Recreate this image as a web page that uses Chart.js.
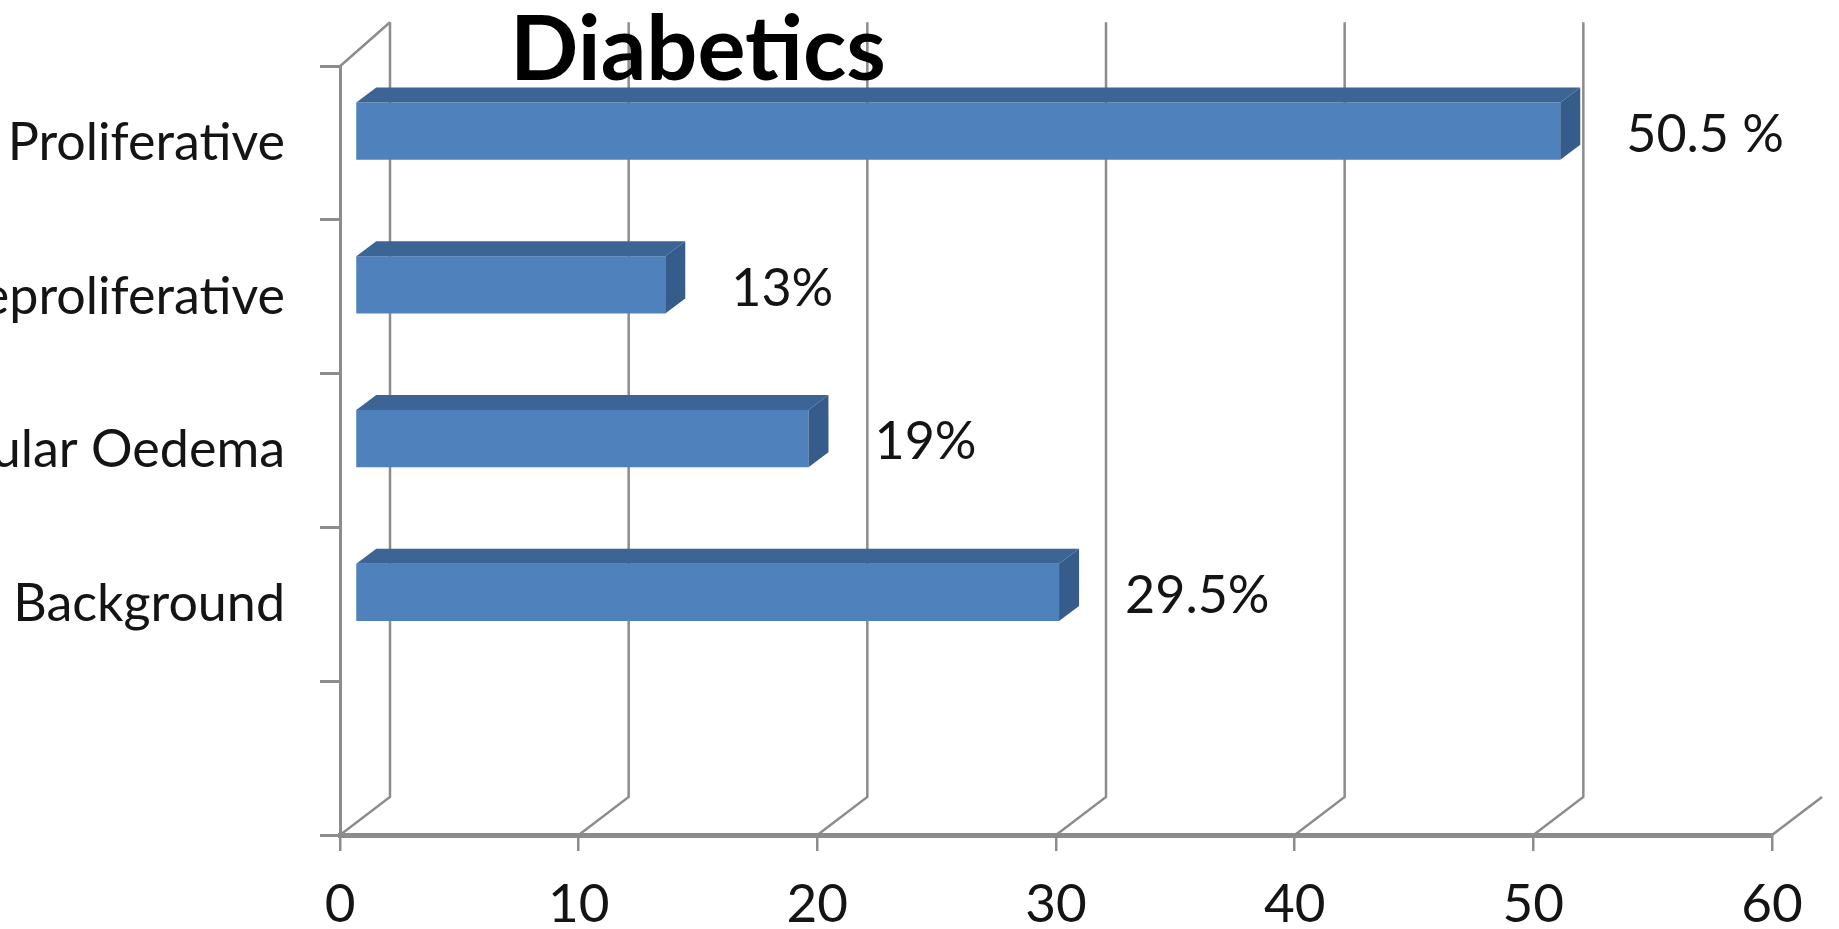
<!DOCTYPE html>
<html>
<head>
<meta charset="utf-8">
<script src="https://cdn.jsdelivr.net/npm/chart.js@4.4.1/dist/chart.umd.min.js"></script>
<style>
html,body{margin:0;padding:0;background:#fff;}
#wrap{width:1839px;height:929px;}
</style>
</head>
<body>
<div id="wrap"><canvas id="c" width="1839" height="929"></canvas></div>
<script>
// data
var categories=['Proliferative','Preproliferative','Macular Oedema','Background',''];
var values=[50.5,13,19,29.5,null];
var valueLabels=['50.5 %','13%','19%','29.5%',''];
var xTicks=[0,10,20,30,40,50,60];
var chartTitle='Diabetics';

// look of the fake 3d
var BACK_DX=50, BACK_DY=-38;     // back wall offset
var BAR_DX=15, BAR_DY=-12;       // bar front face offset
var SIDE_DX=20, SIDE_DY=-15;     // bar depth
var gridColor='#8c8c8c';
var frontColor='#4f81bd', topColor='#3c6595', sideColor='#355c8b';
var textColor='#141414';

var depth3d={
    id:'depth3d',
    beforeDatasetsDraw:function(chart){
        var ctx=chart.ctx, a=chart.chartArea, xs=chart.scales.x;
        ctx.save();
        ctx.strokeStyle=gridColor;
        ctx.lineWidth=2.5;
        xs.ticks.forEach(function(t,i){
            var x=xs.getPixelForValue(t.value);
            ctx.beginPath();
            ctx.moveTo(x,a.bottom);
            ctx.lineTo(x+BACK_DX,a.bottom+BACK_DY);
            if(i<xs.ticks.length-1) ctx.lineTo(x+BACK_DX,a.top+BACK_DY-6);
            ctx.stroke();
        });
        ctx.beginPath();
        ctx.moveTo(a.left,a.top);
        ctx.lineTo(a.left+BACK_DX,a.top+BACK_DY-6);
        ctx.stroke();
        ctx.restore();
        ctx.save();
        ctx.translate(BAR_DX,BAR_DY);
    },
    afterDatasetsDraw:function(chart){
        var ctx=chart.ctx;
        chart.getDatasetMeta(0).data.forEach(function(bar,i){
            if(values[i]==null) return;
            var t=bar.y-bar.height/2, b=bar.y+bar.height/2;
            ctx.fillStyle=topColor;
            ctx.beginPath();
            ctx.moveTo(bar.base,t);
            ctx.lineTo(bar.base+SIDE_DX,t+SIDE_DY);
            ctx.lineTo(bar.x+SIDE_DX,t+SIDE_DY);
            ctx.lineTo(bar.x,t);
            ctx.closePath();
            ctx.fill();
            ctx.fillStyle=sideColor;
            ctx.beginPath();
            ctx.moveTo(bar.x,t);
            ctx.lineTo(bar.x+SIDE_DX,t+SIDE_DY);
            ctx.lineTo(bar.x+SIDE_DX,b+SIDE_DY);
            ctx.lineTo(bar.x,b);
            ctx.closePath();
            ctx.fill();
            ctx.fillStyle=textColor;
            ctx.font='52px Lato';
            ctx.textAlign='left';
            ctx.textBaseline='middle';
            ctx.fillText(valueLabels[i],bar.x+66,bar.y+4);
        });
        ctx.restore();
    },
    afterDraw:function(chart){
        var ctx=chart.ctx;
        ctx.save();
        ctx.fillStyle='#000';
        ctx.font='bold 90px Lato';
        ctx.textAlign='center';
        ctx.textBaseline='alphabetic';
        ctx.fillText(chartTitle,698,80);
        ctx.restore();
    }
};

Chart.defaults.font.family='Lato';

new Chart(document.getElementById('c'),{
    type:'bar',
    data:{
        labels:categories,
        datasets:[{
            data:values,
            backgroundColor:frontColor,
            borderWidth:0,
            barPercentage:0.373,
            categoryPercentage:1,
            clip:false
        }]
    },
    options:{
        indexAxis:'y',
        responsive:false,
        animation:false,
        devicePixelRatio:1,
        layout:{padding:{top:65,right:67,left:0,bottom:0}},
        plugins:{legend:{display:false},tooltip:{enabled:false}},
        scales:{
            x:{
                min:0,max:60,
                afterBuildTicks:function(s){ s.ticks=xTicks.map(function(v){return {value:v};}); },
                afterFit:function(s){ s.height=94; },
                grid:{drawOnChartArea:false,drawTicks:true,tickLength:16,color:gridColor,lineWidth:2.5},
                border:{display:true,color:gridColor,width:5},
                ticks:{font:{size:53},color:textColor,padding:22,maxRotation:0}
            },
            y:{
                afterFit:function(s){ s.width=340; },
                grid:{drawOnChartArea:false,drawTicks:true,tickLength:20,color:gridColor,lineWidth:3},
                border:{display:true,color:gridColor,width:3},
                ticks:{font:{size:52},color:textColor,padding:35,autoSkip:false}
            }
        }
    },
    plugins:[depth3d]
});
</script>
</body>
</html>
